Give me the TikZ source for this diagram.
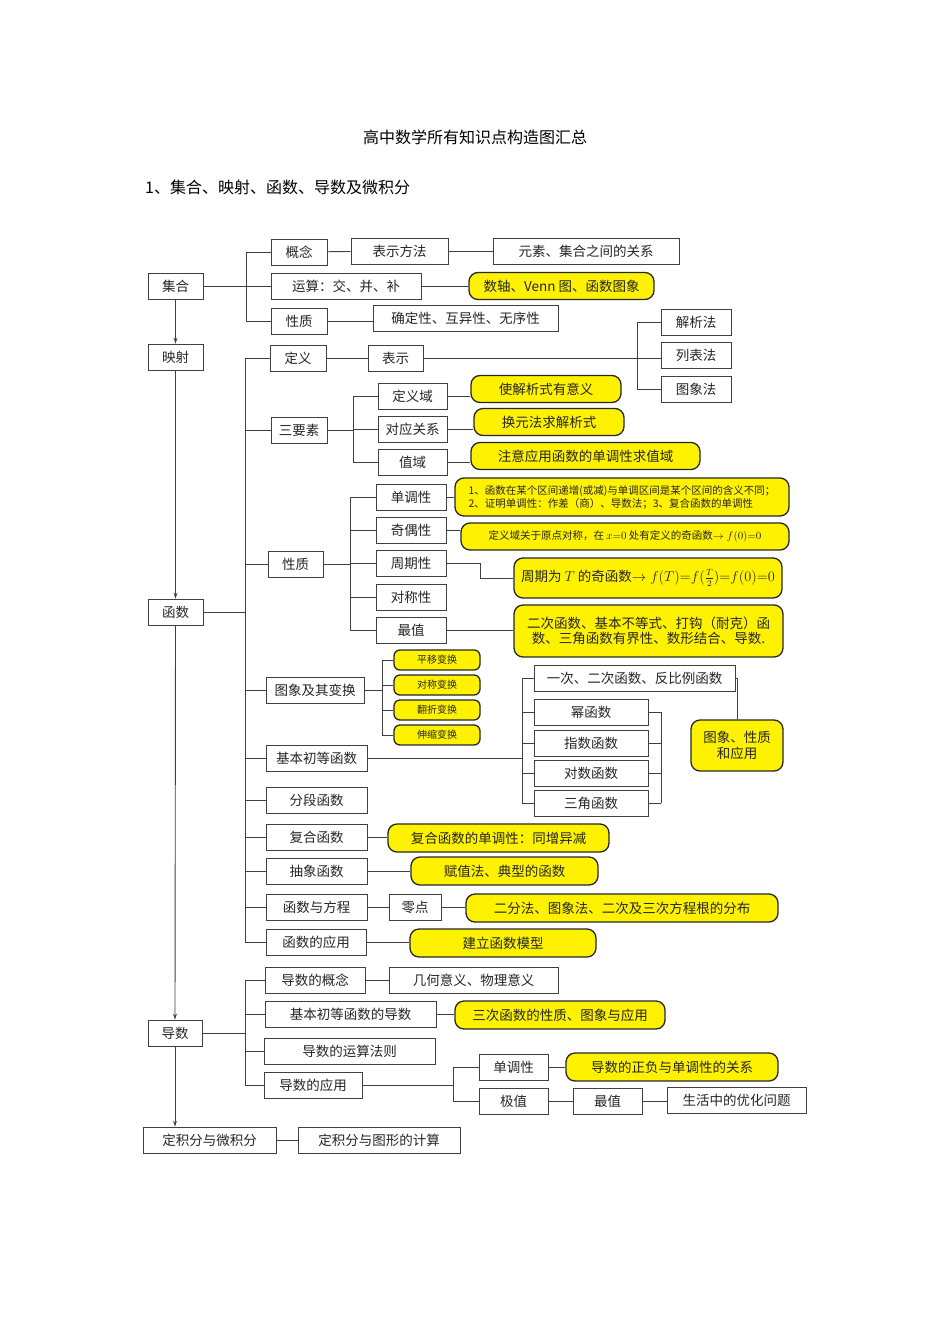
\documentclass[tikz,border=0pt]{standalone}
\usepackage{fontspec}
\setmainfont{Noto Sans CJK SC}
\usetikzlibrary{arrows.meta}
\newcommand{\fsA}{\fontsize{13.5}{15.5}\selectfont}
\newcommand{\fsS}{\fontsize{10}{13}\selectfont}
\newcommand{\mybox}[6]{\node[box,minimum width=#4pt,minimum height=#5pt] (#1) at (#2,#3) {#6};}
\newcommand{\myyel}[6]{\node[yel,minimum width=#4pt,minimum height=#5pt] (#1) at (#2,#3) {#6};}
\tikzset{
  box/.style={draw=black!75,line width=0.9pt,fill=white,inner sep=0pt,font=\fsA,text=black!85},
  yel/.style={draw=black!85,line width=1.3pt,fill=yellow,rounded corners=9pt,inner sep=0pt,font=\fsA,text=black!85,align=center},
  ln/.style={draw=black!75,line width=0.9pt},
  ar/.style={ln,-{Stealth[length=6pt,width=4pt]}}
}
\begin{document}
\begin{tikzpicture}[x=1pt,y=-1pt]
\fill[white] (0,0) rectangle (950,1344);
\useasboundingbox (0,0) rectangle (950,1344);
\node[font=\fontsize{16}{18}\selectfont] (title) at (475,137) {高中数学所有知识点构造图汇总};
\node[font=\fontsize{16}{18}\selectfont,anchor=west,inner sep=0] (sub) at (145,187) {1、集合、映射、函数、导数及微积分};
% main column
\mybox{jh}{175.5}{286}{55}{26}{集合}
\mybox{ys}{175.5}{357}{55}{26}{映射}
\mybox{hs}{175.5}{612}{55}{26}{函数}
\mybox{ds}{175}{1033}{54}{26}{导数}
\mybox{jf}{209.5}{1140}{133}{26}{定积分与微积分}
\mybox{jt}{379}{1140}{162}{26}{定积分与图形的计算}
\draw[ar] (jh.south) -- (ys.north);
\draw[ar] (ys.south) -- (hs.north);
\draw[ar] (hs.south) -- (ds.north);
\draw[ar] (ds.south) -- (ds.south |- jf.north);
\draw[ln] (jf) -- (jt);
% set branch
\mybox{gn}{299}{252}{56}{26}{概念}
\mybox{bsff}{399.5}{251}{97}{26}{表示方法}
\mybox{ysgx}{586}{251}{186}{26}{元素、集合之间的关系}
\mybox{ys2}{346}{286}{150}{26}{运算：交、并、补}
\myyel{venn}{561.5}{286}{185}{27}{数轴、Venn 图、函数图象}
\mybox{xz}{299}{321}{56}{26}{性质}
\mybox{qd}{465.5}{318}{185}{26}{确定性、互异性、无序性}
\coordinate (b1t) at (246,252); \coordinate (b1b) at (246,321);
\draw[ln] (b1t) -- (b1b);
\draw[ln] (jh.east) -- (jh.east -| b1t);
\draw[ln] (gn.west) -- (gn.west -| b1t);
\draw[ln] (ys2.west) -- (ys2.west -| b1t);
\draw[ln] (xz.west) -- (xz.west -| b1t);
\draw[ln] (gn) -- (bsff); \draw[ln] (bsff) -- (ysgx);
\draw[ln] (ys2) -- (venn);
\draw[ln] (xz.east) -- (xz.east -| qd.west);
% function branch
\coordinate (b2t) at (245,358); \coordinate (b2b) at (245,942);
\draw[ln] (b2t) -- (b2b);
\draw[ln] (hs.east) -- (hs.east -| b2t);
\mybox{dy}{298}{358}{56}{26}{定义}
\mybox{bs}{395.5}{358}{55}{26}{表示}
\mybox{jxf}{696}{322}{70}{26}{解析法}
\mybox{lbf}{696}{355}{70}{26}{列表法}
\mybox{txf}{696}{389}{70}{26}{图象法}
\coordinate (b3t) at (637,322); \coordinate (b3b) at (637,389);
\draw[ln] (b3t) -- (b3b);
\draw[ln] (dy) -- (bs);
\draw[ln] (bs.east) -- (lbf.west |- bs.east);
\draw[ln] (jxf.west) -- (jxf.west -| b3t);
\draw[ln] (txf.west) -- (txf.west -| b3t);
\mybox{sys}{299}{430}{56}{26}{三要素}
\mybox{dyy}{412.5}{396}{69}{26}{定义域}
\mybox{dygx}{412.5}{429}{69}{26}{对应关系}
\mybox{zy}{412.5}{462}{69}{26}{值域}
\myyel{y1}{546}{389}{150}{27}{使解析式有意义}
\myyel{y2}{549}{422}{150}{27}{换元法求解析式}
\myyel{y3}{585.5}{456}{229}{27}{注意应用函数的单调性求值域}
\coordinate (b4t) at (353,396); \coordinate (b4b) at (353,462);
\draw[ln] (b4t) -- (b4b);
\draw[ln] (sys.east) -- (sys.east -| b4t);
\draw[ln] (dyy.west) -- (dyy.west -| b4t);
\draw[ln] (dygx.west) -- (dygx.west -| b4t);
\draw[ln] (zy.west) -- (zy.west -| b4t);
\draw[ln] (dyy.east) -- (dyy.east -| y1.west);
\draw[ln] (dygx.east) -- (dygx.east -| y2.west);
\draw[ln] (zy.east) -- (zy.east -| y3.west);
\mybox{xz2}{295.5}{564}{55}{26}{性质}
\mybox{ddx}{411}{497}{70}{26}{单调性}
\mybox{joux}{411}{530}{70}{26}{奇偶性}
\mybox{zqx}{411}{563}{70}{26}{周期性}
\mybox{dcx}{411}{597}{70}{26}{对称性}
\mybox{zz}{411}{630}{70}{26}{最值}
\node[yel,minimum width=334pt,minimum height=38pt,font=\fontsize{10.5}{13}\selectfont,align=left] (p1) at (622,497) {1、函数在某个区间递增(或减)与单调区间是某个区间的含义不同；\\2、证明单调性：作差（商）、导数法；3、复合函数的单调性};
\node[yel,minimum width=328pt,minimum height=27pt,font=\fontsize{10.5}{13}\selectfont] (p2) at (625,536.5) {定义域关于原点对称，在 $x{=}0$ 处有定义的奇函数$\to f(0){=}0$};
\node[yel,minimum width=268pt,minimum height=40pt,font=\fontsize{13.5}{16}\selectfont] (p3) at (648,578) {周期为 $T$ 的奇函数$\to f(T){=}f(\frac{T}{2}){=}f(0){=}0$};
\myyel{p4}{648.5}{631}{269}{52}{二次函数、基本不等式、打钩（耐克）函\\数、三角函数有界性、数形结合、导数.}
\coordinate (b5t) at (350,497); \coordinate (b5b) at (350,630);
\draw[ln] (b5t) -- (b5b);
\draw[ln] (xz2.east) -- (xz2.east -| b5t);
\foreach \n in {ddx,joux,zqx,dcx,zz} \draw[ln] (\n.west) -- (\n.west -| b5t);
\draw[ln] (ddx.east) -- (ddx.east -| p1.west);
\draw[ln] (joux.east) -- (joux.east -| p2.west);
\draw[ln] (zqx.east) -- (480,563) -- (480,578) -- (p3.west);
\draw[ln] (zz.east) -- (zz.east -| p4.west);
\mybox{txbh}{315}{690}{98}{26}{图象及其变换}
\node[yel,minimum width=86pt,minimum height=20pt,font=\fsS,rounded corners=6pt] (t1) at (437,660) {平移变换};
\node[yel,minimum width=86pt,minimum height=20pt,font=\fsS,rounded corners=6pt] (t2) at (437,685) {对称变换};
\node[yel,minimum width=86pt,minimum height=20pt,font=\fsS,rounded corners=6pt] (t3) at (437,710) {翻折变换};
\node[yel,minimum width=86pt,minimum height=20pt,font=\fsS,rounded corners=6pt] (t4) at (437,735) {伸缩变换};
\coordinate (b6t) at (382,660); \coordinate (b6b) at (382,735);
\draw[ln] (b6t) -- (b6b);
\draw[ln] (txbh.east) -- (txbh.east -| b6t);
\foreach \n in {t1,t2,t3,t4} \draw[ln] (\n.west) -- (\n.west -| b6t);
\mybox{jbcd}{316.5}{758}{101}{26}{基本初等函数}
\mybox{yc}{634.5}{678}{201}{26}{一次、二次函数、反比例函数}
\mybox{mhs}{591}{712}{114}{26}{幂函数}
\mybox{zhs}{591}{743}{114}{26}{指数函数}
\mybox{dhs}{591}{773}{114}{26}{对数函数}
\mybox{sjhs}{591}{803}{114}{26}{三角函数}
\myyel{txyy}{737}{745.5}{92}{51}{图象、性质\\和应用}
\coordinate (b7t) at (522,678); \coordinate (b7b) at (522,803);
\draw[ln] (b7t) -- (b7b);
\draw[ln] (jbcd.east) -- (jbcd.east -| b7t);
\foreach \n in {yc,mhs,zhs,dhs,sjhs} \draw[ln] (\n.west) -- (\n.west -| b7t);
\coordinate (b8t) at (661,712); \coordinate (b8b) at (661,803);
\draw[ln] (b8t) -- (b8b);
\foreach \n in {mhs,zhs,dhs,sjhs} \draw[ln] (\n.east) -- (\n.east -| b8t);
\draw[ln] (yc.east) -| (txyy.north);
\mybox{fd}{316.5}{800}{101}{26}{分段函数}
\mybox{fh}{316.5}{837}{101}{26}{复合函数}
\myyel{fhy}{498.5}{838}{221}{28}{复合函数的单调性：同增异减}
\mybox{cx}{316.5}{871}{101}{26}{抽象函数}
\myyel{cxy}{504.5}{871}{187}{28}{赋值法、典型的函数}
\mybox{hyfc}{316.5}{907}{101}{26}{函数与方程}
\mybox{ld}{415}{907}{52}{26}{零点}
\myyel{efy}{622}{908}{312}{28}{二分法、图象法、二次及三次方程根的分布}
\mybox{hsyy}{316}{942}{100}{26}{函数的应用}
\myyel{jl}{503}{943}{186}{28}{建立函数模型}
\foreach \n in {dy,sys,xz2,txbh,jbcd,fd,fh,cx,hyfc,hsyy} \draw[ln] (\n.west) -- (\n.west -| b2t);
\draw[ln] (fh.east) -- (fh.east -| fhy.west);
\draw[ln] (cx.east) -- (cx.east -| cxy.west);
\draw[ln] (hyfc) -- (ld);
\draw[ln] (ld.east) -- (ld.east -| efy.west);
\draw[ln] (hsyy.east) -- (hsyy.east -| jl.west);
% derivative branch
\mybox{dgn}{315}{980}{100}{26}{导数的概念}
\mybox{jh2}{473.5}{980}{169}{26}{几何意义、物理意义}
\mybox{jbd}{350.5}{1014}{171}{26}{基本初等函数的导数}
\myyel{scy}{560}{1015}{210}{28}{三次函数的性质、图象与应用}
\mybox{ysfz}{349.5}{1051}{171}{26}{导数的运算法则}
\mybox{dyy2}{313}{1085}{98}{26}{导数的应用}
\mybox{ddx2}{513.5}{1067}{69}{26}{单调性}
\myyel{zfy}{672}{1067}{212}{28}{导数的正负与单调性的关系}
\mybox{jz}{513.5}{1101}{69}{26}{极值}
\mybox{zz2}{607.5}{1101}{69}{26}{最值}
\mybox{shyh}{736.5}{1100}{139}{26}{生活中的优化问题}
\coordinate (b9t) at (245,980); \coordinate (b9b) at (245,1085);
\draw[ln] (b9t) -- (b9b);
\draw[ln] (ds.east) -- (ds.east -| b9t);
\foreach \n in {dgn,jbd,ysfz,dyy2} \draw[ln] (\n.west) -- (\n.west -| b9t);
\draw[ln] (dgn) -- (jh2);
\draw[ln] (jbd.east) -- (jbd.east -| scy.west);
\coordinate (b10t) at (453,1067); \coordinate (b10b) at (453,1101);
\draw[ln] (b10t) -- (b10b);
\draw[ln] (dyy2.east) -- (dyy2.east -| b10t);
\draw[ln] (ddx2.west) -- (ddx2.west -| b10t);
\draw[ln] (jz.west) -- (jz.west -| b10t);
\draw[ln] (ddx2.east) -- (ddx2.east -| zfy.west);
\draw[ln] (jz) -- (zz2);
\draw[ln] (zz2.east) -- (zz2.east -| shyh.west);
\end{tikzpicture}
\end{document}
